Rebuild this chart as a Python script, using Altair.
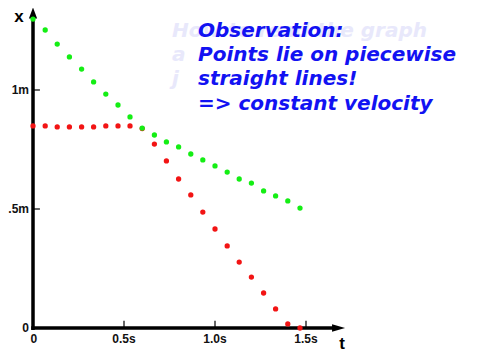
import altair as alt
import pandas as pd

# time of each frame (s)
times = [0.0, 0.067, 0.133, 0.2, 0.267, 0.333, 0.4, 0.467, 0.533, 0.6, 0.667, 0.733,
         0.8, 0.867, 0.933, 1.0, 1.067, 1.133, 1.2, 1.267, 1.333, 1.4, 1.467]
# positions (m)
green_x = [1.298, 1.252, 1.193, 1.139, 1.088, 1.034, 0.983, 0.937, 0.887, 0.840, 0.811, 0.782,
           0.761, 0.731, 0.706, 0.681, 0.655, 0.626, 0.609, 0.576, 0.555, 0.534, 0.504]
red_x = [0.849, 0.849, 0.845, 0.845, 0.845, 0.845, 0.849, 0.849, 0.849, 0.838, 0.773, 0.702,
         0.626, 0.559, 0.487, 0.416, 0.345, 0.277, 0.214, 0.147, 0.080, 0.017, 0.0]

x_ticks = [0.5, 1.0, 1.5]
x_tick_labels = ["0.5s", "1.0s", "1.5s"]
y_ticks = [0.5, 1.0]
y_tick_labels = [".5m", "1m"]

note_lines = ["Observation:", "Points lie on piecewise", "straight lines!", "=> constant velocity"]
ghost_lines = ["How to read the graph", "a", "j"]

FONT = "Liberation Sans"
NOTE_FONT = "DejaVu Sans"
xs = alt.Scale(domain=[-0.1374, 2.4121], nice=False, zero=False)
ys = alt.Scale(domain=[-0.1008, 1.3445], nice=False, zero=False)

def X(field="t", **kw):
    return alt.X(field, type="quantitative", scale=xs, axis=None, **kw)

def Y(field="v", **kw):
    return alt.Y(field, type="quantitative", scale=ys, axis=None, **kw)

pts = pd.concat([
    pd.DataFrame({"t": times, "v": red_x, "s": "red"}),
    pd.DataFrame({"t": times, "v": green_x, "s": "green"}),
])

axes_df = pd.DataFrame({"t": [-0.01, 0.0], "t2": [1.65, 0.0], "v": [0.0, -0.008], "v2": [0.0, 1.312]})
axis_lines = alt.Chart(axes_df).mark_rule(color="black", strokeWidth=3.5).encode(
    x=X("t"), x2="t2", y=Y("v"), y2="v2")

xt_df = pd.DataFrame({"t": x_ticks, "lab": x_tick_labels, "v": [0.0] * 3, "v2": [0.03] * 3})
yt_df = pd.DataFrame({"v": y_ticks, "lab": y_tick_labels, "t": [0.0] * 2, "t2": [0.038] * 2})
xtick_rules = alt.Chart(xt_df).mark_rule(color="black", strokeWidth=1.2).encode(
    x=X("t"), y=Y("v"), y2="v2")
ytick_rules = alt.Chart(yt_df).mark_rule(color="black", strokeWidth=1.2).encode(
    x=X("t"), x2="t2", y=Y("v"))

xlab_df = pd.DataFrame({"t": [0.005] + x_ticks, "lab": ["0"] + x_tick_labels, "v": [-0.046] * 4})
xlabels = alt.Chart(xlab_df).mark_text(font=FONT, fontSize=12, fontWeight="bold", align="center",
                                       baseline="middle", color="#111").encode(
    x=X("t"), y=Y("v"), text="lab")
ylab_df = pd.DataFrame({"v": [0.0] + y_ticks, "lab": ["0"] + y_tick_labels, "t": [-0.022] * 3})
ylabels = alt.Chart(ylab_df).mark_text(font=FONT, fontSize=12, fontWeight="bold", align="right",
                                       baseline="middle", color="#111").encode(
    x=X("t"), y=Y("v"), text="lab")

titles_df = pd.DataFrame({"t": [-0.077, 1.698], "v": [1.3046, -0.0672], "lab": ["x", "t"],
                          "fs": [17, 17]})
titles = alt.Chart(titles_df).mark_text(font=FONT, fontWeight="bold", align="center",
                                        baseline="middle", color="black").encode(
    x=X("t"), y=Y("v"), text="lab", size=alt.Size("fs:Q", scale=None, legend=None))

arr_x = alt.Chart(pd.DataFrame({"t": [1.679], "v": [0.0]})).mark_point(
    shape="M1,0L-1,-0.58L-1,0.58Z", filled=True, opacity=1, color="black", size=169).encode(
    x=X("t"), y=Y("v"))
arr_y = alt.Chart(pd.DataFrame({"t": [0.0], "v": [1.3235]})).mark_point(
    shape="M0,-1L0.75,1L-0.75,1Z", filled=True, opacity=1, color="black", size=121).encode(
    x=X("t"), y=Y("v"))

dots = alt.Chart(pts).mark_circle(size=28, opacity=1).encode(
    x=X("t"), y=Y("v"),
    color=alt.Color("s:N", scale=alt.Scale(domain=["red", "green"], range=["#f21414", "#14ee14"]),
                    legend=None),
    order=alt.Order("s:N", sort="descending"))

ghost = alt.Chart(pd.DataFrame({"txt": ["\n".join(ghost_lines)]})).mark_text(
    font=NOTE_FONT, fontSize=20, fontWeight="bold", fontStyle="italic", align="left",
    baseline="alphabetic", lineBreak="\n", lineHeight=24.2, color="#e8e8fb").encode(
    x=alt.value(164), y=alt.value(29), text="txt:N")

note = alt.Chart(pd.DataFrame({"txt": ["\n".join(note_lines)]})).mark_text(
    font=NOTE_FONT, fontSize=20, fontWeight="bold", fontStyle="italic", align="left",
    baseline="alphabetic", lineBreak="\n", lineHeight=24.2, color="#1212f2").encode(
    x=alt.value(190), y=alt.value(29), text="txt:N")

chart = alt.layer(ghost, note, axis_lines, xtick_rules, ytick_rules, arr_x, arr_y,
                  xlabels, ylabels, titles, dots).properties(
    width=464, height=344, padding=0, autosize="none", background="white"
).configure_view(stroke=None)

chart.save("out.html", embed_options={"renderer": "svg", "actions": False})
